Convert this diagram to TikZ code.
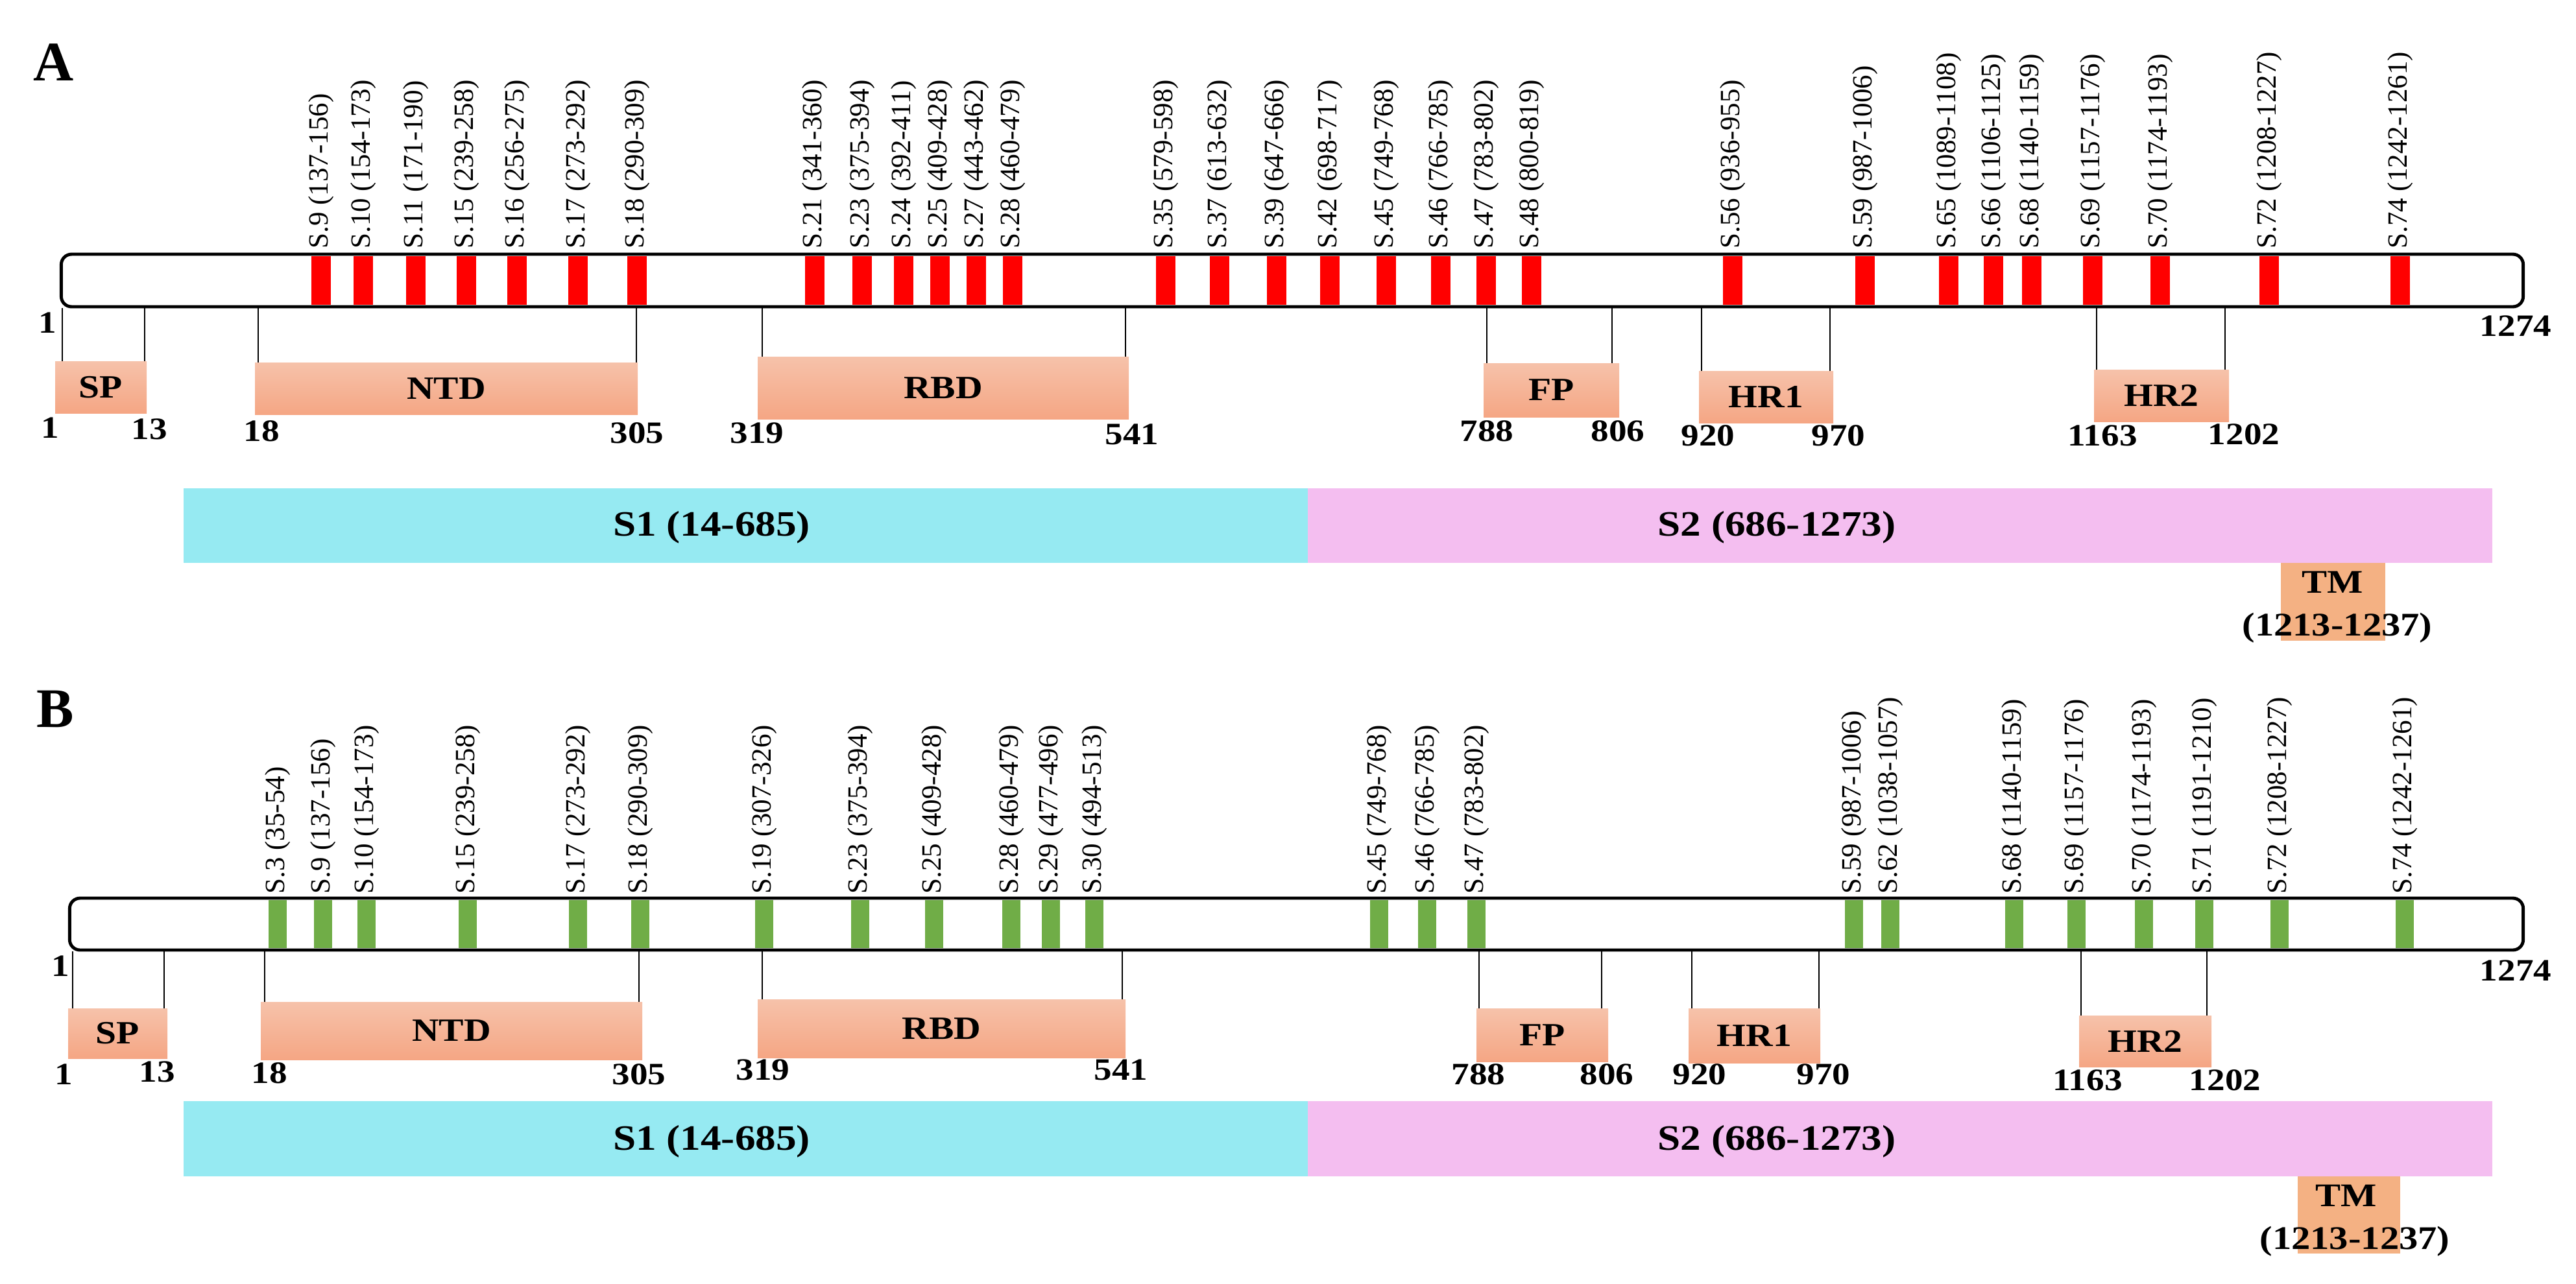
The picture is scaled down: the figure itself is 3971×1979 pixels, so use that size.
\documentclass[tikz,border=0pt]{standalone}
\usepackage{fontspec}
\setmainfont{Liberation Serif}
\newfontfamily\wbf[FakeStretch=1.15]{Liberation Serif}
\definecolor{sred}{RGB}{255,0,0}
\definecolor{sgreen}{RGB}{112,173,71}
\definecolor{domtop}{RGB}{246,194,170}
\definecolor{dombot}{RGB}{245,166,132}
\definecolor{tmcol}{RGB}{244,177,131}
\definecolor{sone}{RGB}{150,234,242}
\definecolor{stwo}{RGB}{244,190,240}
\tikzset{
  bar/.style={draw=black, fill=white, line width=2.8pt, rounded corners=0.32cm, inner sep=0pt},
  slbl/.style={rotate=90, anchor=west, inner sep=0pt, font=\fontsize{24.5}{24.5}\selectfont},
  dom/.style={top color=domtop, bottom color=dombot, draw=none, inner sep=0pt, font=\wbf\bfseries\fontsize{28.5}{28.5}\selectfont},
  sonebox/.style={fill=sone, draw=none, inner sep=0pt},
  stwobox/.style={fill=stwo, draw=none, inner sep=0pt},
  tmbox/.style={fill=tmcol, draw=none, inner sep=0pt},
  num/.style={inner sep=0pt, font=\wbf\bfseries\fontsize{27.3}{27.3}\selectfont},
  stext/.style={inner sep=0pt, font=\wbf\bfseries\fontsize{31.3}{31.3}\selectfont},
  tmtext/.style={inner sep=0pt, font=\wbf\bfseries\fontsize{29}{29}\selectfont},
  panel/.style={inner sep=0pt, font=\bfseries\fontsize{49}{49}\selectfont},
  tick/.style={line width=1.6pt}
}
\newcommand\boxat[7][dom]{\node[#1, minimum width={(#5-#3)*0.02cm}, minimum height={(#6-#4)*0.02cm}] (#2) at ({(#3+#5)/2},{(#4+#6)/2}) {#7};}
\begin{document}
\begin{tikzpicture}[x=0.02cm, y=-0.02cm]
\useasboundingbox (0,0) rectangle (3971,1979);

% ================= Panel A =================
\node[panel] (labA) at (83,96) {A};
\node[bar, minimum width=75.92cm, minimum height=1.62cm] (barA) at (1992,432.5) {};
\foreach \x in {495,560,641,719,797,891,982,1256,1329,1393,1449,1505,1561,1797,1880,1968,2050,2137,2221,2291,2361,2671,2875,3004,3073,3132,3226,3330,3498,3700}
  \fill[sred] (\x-15,395) rectangle (\x+15,470);
\foreach \x/\t [count=\i] in {495/S.9 (137-156),560/S.10 (154-173),641/S.11 (171-190),719/S.15 (239-258),797/S.16 (256-275),891/S.17 (273-292),982/S.18 (290-309),1256/S.21 (341-360),1329/S.23 (375-394),1393/S.24 (392-411),1449/S.25 (409-428),1505/S.27 (443-462),1561/S.28 (460-479),1797/S.35 (579-598),1880/S.37 (613-632),1968/S.39 (647-666),2050/S.42 (698-717),2137/S.45 (749-768),2221/S.46 (766-785),2291/S.47 (783-802),2361/S.48 (800-819),2671/S.56 (936-955),2875/S.59 (987-1006),3004/S.65 (1089-1108),3073/S.66 (1106-1125),3132/S.68 (1140-1159),3226/S.69 (1157-1176),3330/S.70 (1174-1193),3498/S.72 (1208-1227),3700/S.74 (1242-1261)}
  \node[slbl] (la\i) at (\x,384) {\t};

\node[num] (nA1top) at (73,498) {1};
\node[num] (nA1274) at (3878,503) {1274};

\boxat{SPa}{85}{557}{226}{637}{SP}
\boxat{NTDa}{393}{559}{983}{639}{NTD}
\boxat{RBDa}{1168}{550}{1740}{646}{RBD}
\boxat{FPa}{2287}{560}{2496}{643}{FP}
\boxat{HRonea}{2619}{572}{2826}{652}{HR1}
\boxat{HRtwoa}{3228}{570}{3436}{650}{HR2}

\foreach \x/\b in {96/SPa,223/SPa,398/NTDa,981/NTDa,1175/RBDa,1735/RBDa,2292/FPa,2485/FPa,2623/HRonea,2821/HRonea,3232/HRtwoa,3430/HRtwoa}
  \draw[tick] (barA.south -| \x,0) -- (\x,0 |- \b.north);

\foreach \x/\y/\t [count=\i] in {77/660/1,230/662/13,403/665/18,982/668/305,1167/668/319,1745/670/541,2292/665/788,2494/665/806,2633/672/920,2834/672/970,3241/672/1163,3459/670/1202}
  \node[num] (na\i) at (\x,\y) {\t};

\boxat[sonebox]{Sonea}{283}{753}{2016}{868}{}
\boxat[stwobox]{Stwoa}{2016}{753}{3842}{868}{}
\node[stext] (tSonea) at (1097,813) {S1 (14-685)};
\node[stext] (tStwoa) at (2739,813) {S2 (686-1273)};
\boxat[tmbox]{TMa}{3516}{868}{3677}{988}{}
\node[tmtext] (tTMa) at (3596,898) {TM};
\node[tmtext] (tTMra) at (3603,968) {(1213-1237)};

% ================= Panel B =================
\node[panel] (labB) at (85,1093) {B};
\node[bar, minimum width=75.66cm, minimum height=1.6cm] (barB) at (1998.5,1425) {};
\foreach \x in {428,498,565,721,891,987,1178,1326,1440,1559,1620,1687,2126,2200,2276,2858,2914,3105,3201,3305,3398,3514,3707}
  \fill[sgreen] (\x-14,1388) rectangle (\x+14,1462);
\foreach \x/\t [count=\i] in {428/S.3 (35-54),498/S.9 (137-156),565/S.10 (154-173),721/S.15 (239-258),891/S.17 (273-292),987/S.18 (290-309),1178/S.19 (307-326),1326/S.23 (375-394),1440/S.25 (409-428),1559/S.28 (460-479),1620/S.29 (477-496),1687/S.30 (494-513),2126/S.45 (749-768),2200/S.46 (766-785),2276/S.47 (783-802),2858/S.59 (987-1006),2914/S.62 (1038-1057),3105/S.68 (1140-1159),3201/S.69 (1157-1176),3305/S.70 (1174-1193),3398/S.71 (1191-1210),3514/S.72 (1208-1227),3707/S.74 (1242-1261)}
  \node[slbl] (lb\i) at (\x,1379) {\t};

\node[num] (nB1top) at (93,1490) {1};
\node[num] (nB1274) at (3878,1497) {1274};

\boxat{SPb}{105}{1555}{258}{1632}{SP}
\boxat{NTDb}{402}{1545}{990}{1634}{NTD}
\boxat{RBDb}{1168}{1541}{1735}{1631}{RBD}
\boxat{FPb}{2276}{1555}{2479}{1637}{FP}
\boxat{HRoneb}{2603}{1555}{2806}{1639}{HR1}
\boxat{HRtwob}{3205}{1566}{3409}{1645}{HR2}

\foreach \x/\b in {112/SPb,253/SPb,408/NTDb,985/NTDb,1175/RBDb,1730/RBDb,2280/FPb,2469/FPb,2608/HRoneb,2804/HRoneb,3208/HRtwob,3402/HRtwob}
  \draw[tick] (barB.south -| \x,0) -- (\x,0 |- \b.north);

\foreach \x/\y/\t [count=\i] in {98/1657/1,242/1653/13,415/1655/18,985/1657/305,1176/1650/319,1728/1650/541,2279/1657/788,2477/1657/806,2620/1657/920,2811/1657/970,3218/1666/1163,3430/1666/1202}
  \node[num] (nb\i) at (\x,\y) {\t};

\boxat[sonebox]{Soneb}{283}{1698}{2016}{1814}{}
\boxat[stwobox]{Stwob}{2016}{1698}{3842}{1814}{}
\node[stext] (tSoneb) at (1097,1760) {S1 (14-685)};
\node[stext] (tStwob) at (2739,1760) {S2 (686-1273)};
\boxat[tmbox]{TMb}{3542}{1814}{3700}{1933}{}
\node[tmtext] (tTMb) at (3617,1844) {TM};
\node[tmtext] (tTMrb) at (3630,1914) {(1213-1237)};
\end{tikzpicture}
\end{document}
